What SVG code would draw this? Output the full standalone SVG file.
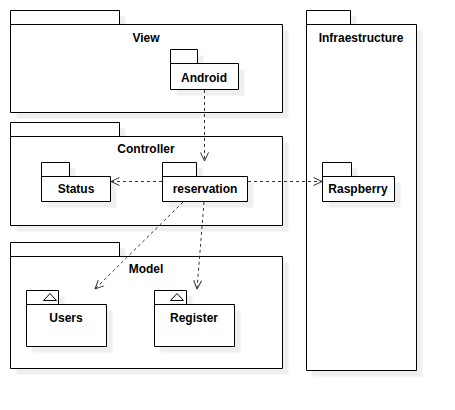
<svg xmlns="http://www.w3.org/2000/svg" width="455" height="410" viewBox="0 0 455 410">
<style>
.sh{fill:#efefef;stroke:none}
.pk{fill:#ffffff;stroke:#000000;stroke-width:1}
.t{font-family:"Liberation Sans",Arial,sans-serif;font-size:12px;font-weight:bold;fill:#000000;text-anchor:middle}
.e{fill:none;stroke:#333333;stroke-width:1;stroke-dasharray:3 3}
.ah{fill:none;stroke:#333333;stroke-width:1}
</style>
<defs>
<marker id="open" viewBox="0 0 10 10" refX="9.5" refY="5" markerWidth="10" markerHeight="10" markerUnits="userSpaceOnUse" orient="auto">
<path d="M1,1 L9.5,5 L1,9" class="ah"/>
</marker>
</defs>
<rect width="455" height="410" fill="#ffffff"/>
<g id="view">
<path class="sh" d="M16.5,16.5 h109 v14 h163 v88 h-272 z"/>
<path class="pk" d="M10.5,10.5 h109 v14 h-109 z M10.5,24.5 h272 v88 h-272 z"/>
<text class="t" x="146" y="42">View</text>
</g>
<g id="controller">
<path class="sh" d="M16.5,128.5 h109 v14 h163 v89 h-272 z"/>
<path class="pk" d="M10.5,122.5 h109 v14 h-109 z M10.5,136.5 h272 v89 h-272 z"/>
<text class="t" x="146" y="153">Controller</text>
</g>
<g id="model">
<path class="sh" d="M16.5,248.5 h109 v14 h163 v112 h-272 z"/>
<path class="pk" d="M10.5,242.5 h109 v14 h-109 z M10.5,256.5 h272 v112 h-272 z"/>
<text class="t" x="146" y="273">Model</text>
</g>
<g id="infraestructure">
<path class="sh" d="M312.5,16.5 h44 v14 h66 v346 h-110 z"/>
<path class="pk" d="M306.5,10.5 h44 v14 h-44 z M306.5,24.5 h110 v346 h-110 z"/>
<text class="t" x="361" y="42">Infraestructure</text>
</g>
<g id="android">
<path class="sh" d="M176.5,55.5 h27 v14 h41 v26 h-68 z"/>
<path class="pk" d="M170.5,49.5 h27 v14 h-27 z M170.5,63.5 h68 v26 h-68 z"/>
<text class="t" x="204" y="82">Android</text>
</g>
<g id="status">
<path class="sh" d="M47.5,168.5 h28 v14 h41 v25 h-69 z"/>
<path class="pk" d="M41.5,162.5 h28 v14 h-28 z M41.5,176.5 h69 v25 h-69 z"/>
<text class="t" x="76" y="193">Status</text>
</g>
<g id="reservation">
<path class="sh" d="M168.5,168.5 h34 v14 h51 v25 h-85 z"/>
<path class="pk" d="M162.5,162.5 h34 v14 h-34 z M162.5,176.5 h85 v25 h-85 z"/>
<text class="t" x="205" y="193">reservation</text>
</g>
<g id="raspberry">
<path class="sh" d="M328.5,168.5 h29 v14 h43 v25 h-72 z"/>
<path class="pk" d="M322.5,162.5 h29 v14 h-29 z M322.5,176.5 h72 v25 h-72 z"/>
<text class="t" x="358" y="193">Raspberry</text>
</g>
<g id="users">
<path class="sh" d="M32.5,296.5 h32 v14 h48 v42 h-80 z"/>
<path class="pk" d="M26.5,290.5 h32 v14 h-32 z M26.5,304.5 h80 v42 h-80 z"/>
<path class="pk" d="M43.5,300.5 L50,293.5 L56.5,300.5 z"/>
<text class="t" x="66" y="322">Users</text>
</g>
<g id="register">
<path class="sh" d="M160.5,296.5 h32 v14 h48 v42 h-80 z"/>
<path class="pk" d="M154.5,290.5 h32 v14 h-32 z M154.5,304.5 h80 v42 h-80 z"/>
<path class="pk" d="M170.5,300.5 L177,293.5 L183.5,300.5 z"/>
<text class="t" x="194" y="322">Register</text>
</g>
<g id="connectors">
<path class="e" d="M204.5,90 L204.5,161" marker-end="url(#open)"/>
<path class="e" d="M162,181.5 L111,181.5" marker-end="url(#open)"/>
<path class="e" d="M248,181.5 L322,181.5" marker-end="url(#open)"/>
<path class="e" d="M183,202 L95,289" marker-end="url(#open)"/>
<path class="e" d="M204,202 L197,289" marker-end="url(#open)"/>
</g>
</svg>
